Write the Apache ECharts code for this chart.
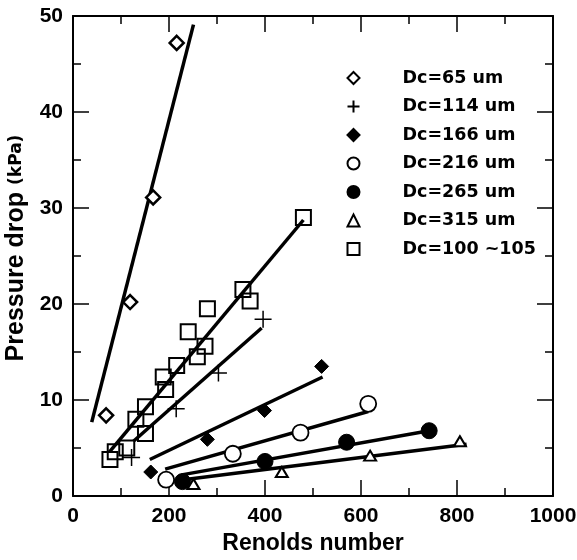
<!DOCTYPE html>
<html><head><meta charset="utf-8">
<script src="https://cdn.jsdelivr.net/npm/echarts@6/dist/echarts.min.js"></script>
<style>html,body{margin:0;padding:0;background:#fff}#c{width:577px;height:560px}</style>
</head><body><div id="c"></div>
<script>
// ---- data ----
const seriesNames = ['Dc=65 um','Dc=114 um','Dc=166 um','Dc=216 um','Dc=265 um','Dc=315 um','Dc=100 ~105'];
const dc65  = [[69,8.4],[119,20.2],[167,31.1],[216,47.2]];
const dc114 = [[122,4.0],[215,9.1],[303,12.8],[396,18.4]];
const dc166 = [[162,2.5],[280,5.9],[399,8.9],[518,13.5]];
const dc216 = [[194,1.7],[333,4.4],[474,6.6],[615,9.6]];
const dc265 = [[228,1.5],[400,3.6],[570,5.6],[742,6.8]];
const dc315 = [[251,1.25],[435,2.5],[619,4.2],[806,5.7]];
const dc100 = [[77,3.8],[88,4.6],[112,5.0],[131,8.0],[151,9.3],[151,6.5],[188,12.4],[193,11.1],
               [216,13.6],[240,17.1],[259,14.5],[275,15.6],[280,19.5],[354,21.5],[369,20.3],[480,29.0]];
// fitted lines (end points)
const fit65  = [[39,7.7],[251,49.1]];
const fit114 = [[126,5.7],[393,17.5]];
const fit166 = [[160,3.8],[520,12.4]];
const fit216 = [[192,2.8],[615,8.8]];
const fit265 = [[226,2.2],[742,6.8]];
const fit315 = [[230,1.7],[820,5.4]];
const fit100 = [[76,4.6],[480,28.75]];
const xTicks = [0,200,400,600,800,1000];
const yTicks = [0,10,20,30,40,50];

const FONT = 'Liberation Sans, Arial, Helvetica, sans-serif';
const chart = echarts.init(document.getElementById('c'), null, {renderer:'canvas'});
const openStyle = {color:'#fff', borderColor:'#000', borderWidth:2.5, opacity:1};
const fillStyle = {color:'#000', borderColor:'#000', borderWidth:1, opacity:1};
const plusPath = 'path://M0,5L10,5M5,0L5,10';

function sc(name, data, symbol, size, style){
  return {type:'scatter', name, data, symbol, symbolSize:size, itemStyle:style, z:3};
}
function ln(data){
  return {type:'line', data, symbol:'none', silent:true, lineStyle:{color:'#000', width:3.5}, z:2};
}
const axisCommon = {
  min:0, axisLine:{show:true, onZero:false, lineStyle:{color:'#000', width:2}},
  axisTick:{show:true, inside:true, length:16, lineStyle:{color:'#000', width:1.5}},
  minorTick:{show:true, splitNumber:2, length:8, lineStyle:{color:'#000', width:1.5}},
  splitLine:{show:false}
};
chart.setOption({
  animation:false,
  backgroundColor:'#fff',
  grid:{left:73, top:16, right:24, bottom:64, containLabel:false, outerBoundsMode:'none'},
  legend:{
    data:seriesNames, orient:'vertical', left:340, top:64,
    itemWidth:12, itemHeight:12, itemGap:10.5,
    textStyle:{fontFamily:'DejaVu Sans, sans-serif', fontWeight:'bold', fontSize:17.5, color:'#000', lineHeight:16, padding:[0,0,0,38]},
    selectedMode:false
  },
  xAxis:[
    Object.assign({}, axisCommon, {type:'value', max:1000, interval:200, position:'bottom',
      name:'Renolds number', nameLocation:'middle', nameGap:29,
      nameTextStyle:{fontFamily:FONT, fontWeight:'bold', fontSize:23, color:'#000'},
      axisLabel:{fontFamily:FONT, fontWeight:'bold', fontSize:21, color:'#000', margin:10,
        formatter:v=> xTicks.includes(v)? String(v):''}}),
    Object.assign({}, axisCommon, {type:'value', max:1000, interval:200, position:'top', axisLabel:{show:false}})
  ],
  yAxis:[
    Object.assign({}, axisCommon, {type:'value', max:50, interval:10, position:'left',
      name:'{a|Pressure drop }{b|(kPa)}', nameLocation:'middle', nameGap:41,
      nameTextStyle:{padding:[0,0,0,16], rich:{a:{fontFamily:FONT, fontWeight:'bold', fontSize:25, color:'#000'},
                           b:{fontFamily:'DejaVu Sans, sans-serif', fontWeight:'bold', fontSize:17, color:'#000'}}},
      axisLabel:{fontFamily:FONT, fontWeight:'bold', fontSize:21, color:'#000', margin:10,
        formatter:v=> yTicks.includes(v)? String(v):''}}),
    Object.assign({}, axisCommon, {type:'value', max:50, interval:10, position:'right', axisLabel:{show:false}})
  ],
  series:[
    ln(fit65), ln(fit114), ln(fit166), ln(fit216), ln(fit265), ln(fit315), ln(fit100),
    sc(seriesNames[0], dc65, 'diamond', [14,14], openStyle),
    sc(seriesNames[1], dc114, plusPath, [17,17], {color:'none', borderColor:'#000', borderWidth:1.5, opacity:1}),
    sc(seriesNames[2], dc166, 'diamond', [14,14], fillStyle),
    sc(seriesNames[3], dc216, 'circle', 16, {color:'#fff', borderColor:'#000', borderWidth:1.8, opacity:1}),
    sc(seriesNames[4], dc265, 'circle', 16, fillStyle),
    sc(seriesNames[5], dc315, 'triangle', [12,10], {color:'#fff', borderColor:'#000', borderWidth:2, opacity:1}),
    sc(seriesNames[6], dc100, 'rect', 15, {color:'none', borderColor:'#000', borderWidth:2, opacity:1})
  ]
});
</script></body></html>
